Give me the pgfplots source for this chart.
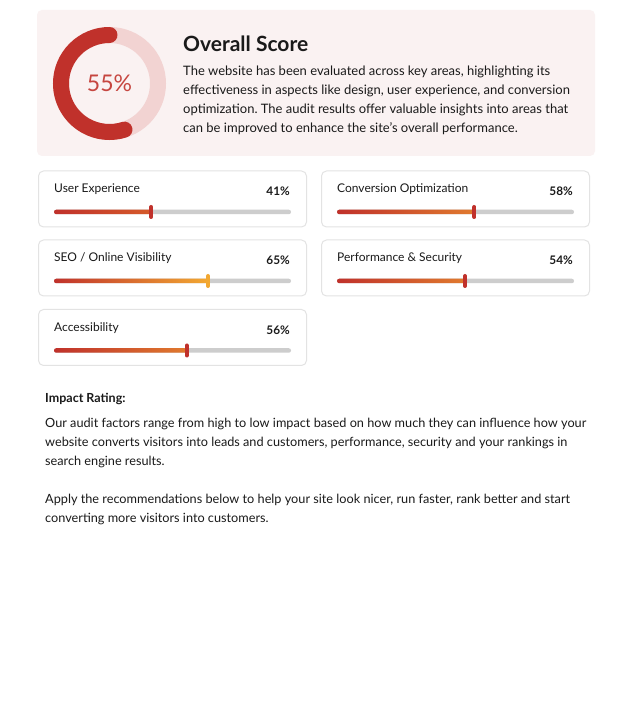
\documentclass[border=0pt]{standalone}
\usepackage{pgfplots}
\pgfplotsset{compat=1.18}
\usepackage{fontspec}
\setmainfont{Lato}
\definecolor{scorered}{HTML}{C0312B}
\definecolor{ringpink}{HTML}{F2D3D2}
\definecolor{headbg}{HTML}{FAF2F2}
\definecolor{trackgray}{HTML}{CDCDCD}
\definecolor{cardborder}{HTML}{E3E3E3}
\definecolor{txt}{HTML}{1A1A1A}
\definecolor{orangeA}{HTML}{E07A2E}
\definecolor{orangeB}{HTML}{D55A2A}
\definecolor{yellowA}{HTML}{F2A832}

% #1 track left x (px), #2 track y (px from top), #3 value, #4 end colour, #5 marker colour, #6 label
\newcommand{\scorecard}[6]{%
  \draw[cardborder, fill=white, rounded corners=5pt, line width=1pt]
    (#1-15.5, 720-#2+41) rectangle (#1+252.5, 720-#2-15);
  \node[anchor=base west, inner sep=0pt, font=\fontsize{12}{14}\selectfont, txt] at (#1, 720-#2+19) {#6};
  \node[anchor=base east, inner sep=0pt, font=\fontsize{11.8}{14}\selectfont\bfseries, txt] at (#1+236, 720-#2+16) {#3\%};
  \begin{axis}[at={(#1pt,720pt-#2pt)}, anchor=west, width=237pt, height=14pt, scale only axis,
      xmin=0, xmax=100, ymin=0, ymax=1, hide axis, clip=false]
    \addplot[xbar, bar shift=0pt, bar width=4.5pt, fill=trackgray, draw=none, rounded corners=2.2pt]
      coordinates {(100,0.5)};
    \addplot[xbar, bar shift=0pt, bar width=4.5pt, left color=scorered, middle color=scorered, right color=#4, draw=none, rounded corners=2.2pt]
      coordinates {(#3,0.5)};
    \addplot[only marks, mark=|, mark size=5pt, mark options={line width=4pt, line cap=round, draw=#5}]
      coordinates {(#3,0.5)};
  \end{axis}
}
\newcommand{\txtline}[4]{\node[anchor=base west, inner sep=0pt, font=#3, txt] at (#1, 720-#2) {#4};}

\begin{document}
\frenchspacing
\begin{tikzpicture}[x=1pt, y=1pt]
\fill[white] (0,0) rectangle (629,720);
\useasboundingbox (0,0) rectangle (629,720);

% header panel
\fill[headbg, rounded corners=5pt] (37,720-10) rectangle (595,720-156);

% donut: overall score
\pgfmathsetmacro\scoreangle{55*3.6}
\begin{axis}[at={(109.5pt,636.5pt)}, anchor=center, width=113pt, height=113pt, scale only axis,
    xmin=-1.165, xmax=1.165, ymin=-1.165, ymax=1.165, hide axis, clip=false]
  \draw[ringpink, line width=16pt] (axis cs:0,0) circle[radius=48.5pt];
  \draw[scorered, line width=16pt, line cap=round] (axis cs:0,1) arc[start angle=90, delta angle=\scoreangle, radius=48.5pt];
  \node[font=\fontsize{23}{26}\selectfont, text=scorered!90!white] at (axis cs:0,0) {55\%};
\end{axis}

\txtline{183}{52}{\fontsize{21}{24}\selectfont\bfseries}{Overall Score}
\txtline{183}{76}{\fontsize{13}{19}\selectfont}{The website has been evaluated across key areas, highlighting its}
\txtline{183}{95}{\fontsize{13}{19}\selectfont}{effectiveness in aspects like design, user experience, and conversion}
\txtline{183}{114}{\fontsize{13}{19}\selectfont}{optimization. The audit results offer valuable insights into areas that}
\txtline{183}{133}{\fontsize{13}{19}\selectfont}{can be improved to enhance the site's overall performance.}

% score cards
\scorecard{54}{212}{41}{orangeB}{scorered}{User Experience}
\scorecard{337}{212}{58}{orangeA}{scorered}{Conversion Optimization}
\scorecard{54}{281}{65}{yellowA}{yellowA}{SEO / Online Visibility}
\scorecard{337}{281}{54}{orangeA}{scorered}{Performance \& Security}
\scorecard{54}{350.5}{56}{orangeA}{scorered}{Accessibility}

% impact text
\txtline{45}{403}{\fontsize{12.5}{19}\selectfont\bfseries}{Impact Rating:}
\txtline{45}{428}{\fontsize{12.7}{19}\selectfont}{Our audit factors range from high to low impact based on how much they can influence how your}
\txtline{45}{447}{\fontsize{12.7}{19}\selectfont}{website converts visitors into leads and customers, performance, security and your rankings in}
\txtline{45}{466}{\fontsize{12.7}{19}\selectfont}{search engine results.}
\txtline{45}{504}{\fontsize{12.7}{19}\selectfont}{Apply the recommendations below to help your site look nicer, run faster, rank better and start}
\txtline{45}{523}{\fontsize{12.7}{19}\selectfont}{converting more visitors into customers.}
\end{tikzpicture}
\end{document}
